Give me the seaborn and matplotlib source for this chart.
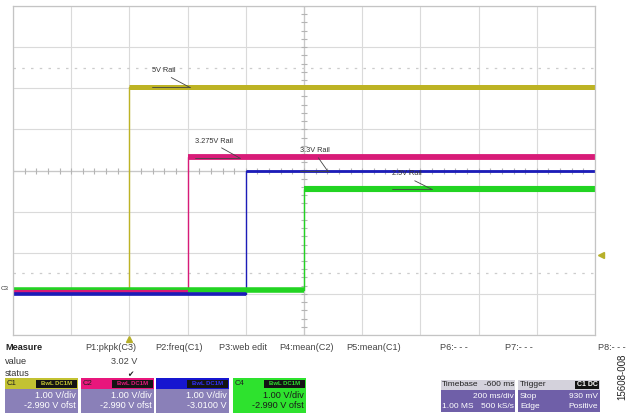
import numpy as np
import pandas as pd
import seaborn as sns
import matplotlib.pyplot as plt
from matplotlib.patches import Rectangle

# scope channels (volts); time in ms, trigger at t=0, 200 ms/div
channels = ["C1", "C2", "C3", "C4"]
rise_ms = [0, 200, 400, 600]
high_v = [5.03, 3.32, 3.01, 2.53]
low_v = [0.07, 0.04, 0.01, 0.08]
offset_v = [-2.99, -2.99, -3.01, -2.99]
colors = ["#bdb324", "#d81b78", "#1c1cb8", "#22d422"]
band_widths = [3.6, 4.2, 2.0, 4.4]
low_widths = [2.0, 3.0, 2.6, 4.0]
rail_labels = ["5V Rail", "3.275V Rail", "3.3V Rail", "2.5V Rail"]

t_start, t_end = -400, 1600
trigger_level_v = 0.93

sns.set_theme(style="white")
plt.rcParams["font.family"] = ["Liberation Sans", "DejaVu Sans"]

rows = []
for ch, tr, hi, lo, off in zip(channels, rise_ms, high_v, low_v, offset_v):
    for seg, t, v in [("low", t_start, lo), ("low", tr, lo), ("high", tr, hi), ("high", t_end, hi)]:
        rows.append({"channel": ch, "seg": seg, "t": t, "div": v + off})
df = pd.DataFrame(rows)

fig = plt.figure(figsize=(6.3, 4.16), dpi=100)
W, H = 630, 416
ax = fig.add_axes([13 / W, 1 - 335 / H, 582 / W, 329 / H])

# grid
ax.set_xlim(t_start, t_end)
ax.set_ylim(-4, 4)
ax.set_xticks(np.arange(t_start, t_end + 1, 200))
ax.set_yticks(np.arange(-4, 5, 1))
ax.grid(True, color="#dadada", lw=0.8)
ax.tick_params(length=0, labelbottom=False, labelleft=False)
for s in ax.spines.values():
    s.set_color("#c4c4c4")
    s.set_linewidth(0.9)
ax.axvline(600, color="#c8c8c8", lw=0.9)
ax.axhline(0, color="#c8c8c8", lw=0.9)
ax.plot(np.full(41, 600), np.arange(-4, 4.01, 0.2), ls="none", marker="_",
        ms=4, color="#b4b4b4", mew=0.8)
ax.plot(np.arange(t_start, t_end + 1, 40), np.zeros(51), ls="none", marker="|",
        ms=4, color="#b4b4b4", mew=0.8)
for yy in (2.5, -2.5):
    ax.axhline(yy, color="#cccccc", lw=0.9, ls=(0, (2, 5)))

# traces: thin step edges, then thick noisy flat levels
for ch, col in zip(channels, colors):
    sns.lineplot(data=df[df.channel == ch], x="t", y="div", color=col, lw=1.0,
                 sort=False, estimator=None, ax=ax, legend=False)
for ch, col, lw in zip(channels, colors, band_widths):
    d = df[(df.channel == ch) & (df.seg == "high")]
    sns.lineplot(data=d, x="t", y="div", color=col, lw=lw, sort=False,
                 estimator=None, ax=ax, legend=False, solid_capstyle="butt")
# ground levels: green and yellow sit behind magenta and blue
for i in [3, 0, 1, 2]:
    d = df[(df.channel == channels[i]) & (df.seg == "low")]
    sns.lineplot(data=d, x="t", y="div", color=colors[i], lw=low_widths[i],
                 sort=False, estimator=None, ax=ax, legend=False,
                 solid_capstyle="butt")
ax.set_xlabel("")
ax.set_ylabel("")

# rail annotations
label_pos = [(78, 2.34), (225, 0.63), (585, 0.39), (902, -0.17)]
leader_end = [(208, 2.02), (380, 0.30), (682, -0.02), (1040, -0.46)]
for lab, (tx, ty), end in zip(rail_labels, label_pos, leader_end):
    txt = ax.annotate(lab, xy=end, xytext=(tx, ty), fontsize=5.3, color="#333333",
                      ha="left", va="bottom",
                      arrowprops=dict(arrowstyle="-", lw=0.6, color="#444444",
                                      shrinkA=0, shrinkB=0, relpos=(0.55, 0)))
    fig.canvas.draw()
    bb = txt.get_window_extent().transformed(ax.transData.inverted())
    ax.plot([bb.x0, bb.x1], [bb.y0, bb.y0], color="#444444", lw=0.6)

# trigger markers
ax.plot([0], [-4.1], marker="^", ms=4, color="#b7b02a", clip_on=False)
ax.plot([t_end + 22], [trigger_level_v + offset_v[0]], marker="<", ms=4,
        color="#b7b02a", clip_on=False)
ax.text(t_start - 30, low_v[2] + offset_v[2] + 0.12, "C3", fontsize=4.5,
        color="#333333", ha="center", va="center")


def fx(x):
    return x / W


def fy(y):
    return 1 - y / H


# measure table
fs = 6.6
fig.text(fx(5), fy(348), "Measure", fontsize=fs, weight="bold", va="center", color="#222")
fig.text(fx(5), fy(361), "value", fontsize=fs, va="center", color="#333")
fig.text(fx(5), fy(373), "status", fontsize=fs, va="center", color="#333")
params = ["P1:pkpk(C3)", "P2:freq(C1)", "P3:web edit", "P4:mean(C2)",
          "P5:mean(C1)", "P6:- - -", "P7:- - -", "P8:- - -"]
param_x = [85, 155, 219, 279, 346, 440, 505, 598]
for p, x in zip(params, param_x):
    fig.text(fx(x), fy(348), p, fontsize=fs, va="center", color="#444")
fig.text(fx(137), fy(361), "3.02 V", fontsize=fs, va="center", ha="right", color="#444")
fig.text(fx(130), fy(374), "\u2714", fontsize=5.5, va="center", ha="center",
         color="#222", family="DejaVu Sans")


def box(x0, y0, x1, y1, color):
    fig.add_artist(Rectangle((fx(x0), fy(y1)), fx(x1 - x0), (y1 - y0) / H,
                             transform=fig.transFigure, facecolor=color,
                             edgecolor="none"))


# channel boxes
ch_head = ["#c3c232", "#e8167c", "#1616d0", "#2ee22e"]
ch_body = ["#8a80b8", "#8a80b8", "#8a80b8", "#2ee22e"]
ch_tag_txt = ["#c8c832", "#e8167c", "#3030ff", "#2ee22e"]
ch_x = [5, 81, 156, 233]
ch_vdiv = ["1.00 V/div"] * 4
ch_ofst = ["-2.990 V ofst", "-2.990 V ofst", "-3.0100 V", "-2.990 V ofst"]
for i, (x0, ch) in enumerate(zip(ch_x, channels)):
    x1 = x0 + 73
    box(x0, 378, x1, 413, ch_body[i])
    box(x0, 378, x1, 389, ch_head[i])
    box(x1 - 42, 379.5, x1 - 1.5, 387.5, "#141414")
    body_col = "#1a1a1a" if i == 3 else "white"
    if i != 2:
        fig.text(fx(x0 + 2), fy(383.5), ch, fontsize=5.6, va="center", color="#202020")
    fig.text(fx(x1 - 21.5), fy(383.5), "BwL DC1M", fontsize=4.3, va="center",
             ha="center", color=ch_tag_txt[i], weight="bold")
    fig.text(fx(x1 - 2), fy(395), ch_vdiv[i], fontsize=fs, va="center", ha="right",
             color=body_col)
    fig.text(fx(x1 - 2), fy(406), ch_ofst[i], fontsize=fs, va="center", ha="right",
             color=body_col)

# timebase / trigger boxes
fb = 6.0
box(441, 380, 515, 412, "#6f5fa8")
box(441, 380, 515, 390, "#d4d2dc")
fig.text(fx(442), fy(385), "Timebase", fontsize=fb, va="center", color="#222")
fig.text(fx(514.5), fy(385), "-600 ms", fontsize=fb, va="center", ha="right", color="#222")
fig.text(fx(514), fy(396), "200 ms/div", fontsize=fb, va="center", ha="right", color="white")
fig.text(fx(442), fy(406), "1.00 MS", fontsize=fb, va="center", color="white")
fig.text(fx(514), fy(406), "500 kS/s", fontsize=fb, va="center", ha="right", color="white")

box(518, 380, 600, 412, "#6f5fa8")
box(518, 380, 600, 390, "#d4d2dc")
box(575, 381, 599, 389, "#141414")
fig.text(fx(520), fy(385), "Trigger", fontsize=fb, va="center", color="#222")
fig.text(fx(587), fy(385), "C1 DC", fontsize=5, va="center", ha="center",
         color="white", weight="bold")
fig.text(fx(520), fy(396), "Stop", fontsize=fb, va="center", color="white")
fig.text(fx(598), fy(396), "930 mV", fontsize=fb, va="center", ha="right", color="white")
fig.text(fx(520), fy(406), "Edge", fontsize=fb, va="center", color="white")
fig.text(fx(598), fy(406), "Positive", fontsize=fb, va="center", ha="right", color="white")

fig.text(fx(622), fy(377), "15608-008", fontsize=7, rotation=90, va="center",
         ha="center", color="#222")

fig.savefig("out.png", dpi=100)
